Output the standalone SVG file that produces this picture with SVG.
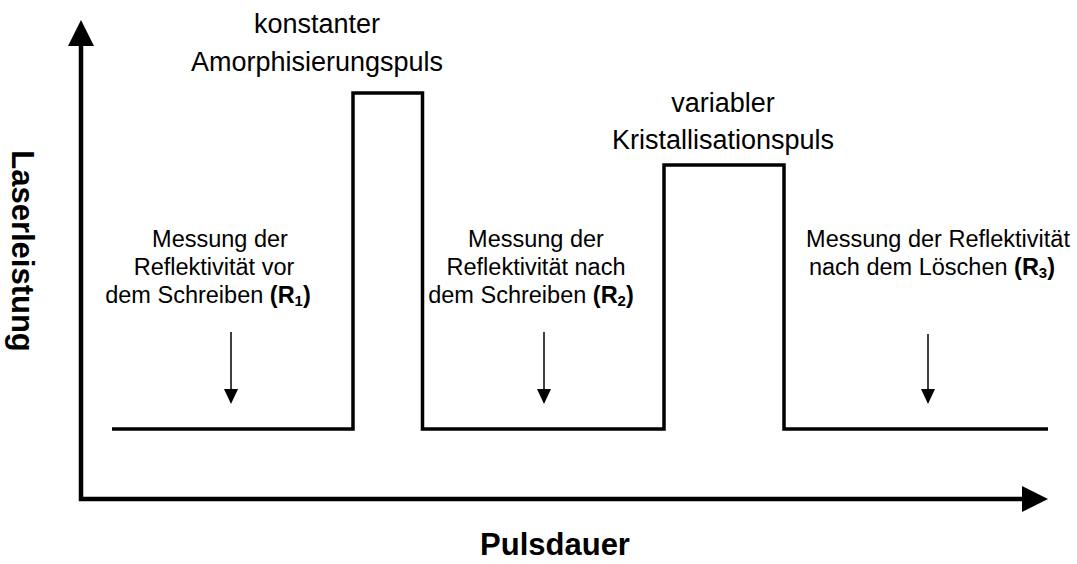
<svg xmlns="http://www.w3.org/2000/svg" width="1077" height="564" viewBox="0 0 1077 564">
<style>
.ax{stroke:#000;stroke-width:4.5;fill:none}
.sig{stroke:#000;stroke-width:3.5;fill:none;stroke-linejoin:miter}
.ar{stroke:#000;stroke-width:1.5}
.hd{fill:#000}
.sm{font-family:"Liberation Sans",Arial,sans-serif;font-size:23.5px;fill:#000;text-anchor:middle}
.lb{font-family:"Liberation Sans",Arial,sans-serif;font-size:27px;fill:#000;text-anchor:middle}
.ttl{font-family:"Liberation Sans",Arial,sans-serif;font-size:31px;font-weight:bold;fill:#000;text-anchor:middle}
.b{font-weight:bold}
</style>
<rect width="1077" height="564" fill="#fff"/>
<g id="axes">
<line class="ax" x1="81" y1="501" x2="81" y2="44"/>
<polygon class="hd" points="81,20 68,46 94,46"/>
<line class="ax" x1="79" y1="499" x2="1025" y2="499"/>
<polygon class="hd" points="1048,499 1022,486 1022,512"/>
<text class="ttl" transform="translate(12,251) rotate(90)">Laserleistung</text>
<text class="ttl" x="555" y="555">Pulsdauer</text>
</g>
<g id="signal">
<path class="sig" d="M112,429 H353 V93 H422.5 V429 H664 V165 H784 V429 H1048"/>
</g>
<g id="label-amorph">
<text class="lb" x="317" y="33">konstanter</text>
<text class="lb" x="317" y="71">Amorphisierungspuls</text>
</g>
<g id="label-krist">
<text class="lb" x="723" y="112">variabler</text>
<text class="lb" x="723" y="149">Kristallisationspuls</text>
</g>
<g id="m1">
<text class="sm" x="220" y="247">Messung der</text>
<text class="sm" x="214" y="275">Reflektivität vor</text>
<text class="sm" x="208" y="303">dem Schreiben <tspan class="b">(R<tspan font-size="15" dy="3">1</tspan><tspan dy="-3">)</tspan></tspan></text>
</g>
<g id="m2">
<text class="sm" x="536" y="247">Messung der</text>
<text class="sm" x="536" y="275">Reflektivität nach</text>
<text class="sm" x="531" y="303">dem Schreiben <tspan class="b">(R<tspan font-size="15" dy="3">2</tspan><tspan dy="-3">)</tspan></tspan></text>
</g>
<g id="m3">
<text class="sm" x="938" y="247">Messung der Reflektivität</text>
<text class="sm" x="932" y="275">nach dem Löschen <tspan class="b">(R<tspan font-size="15" dy="3">3</tspan><tspan dy="-3">)</tspan></tspan></text>
</g>
<g id="connectors">
<line class="ar" x1="231" y1="332" x2="231" y2="392"/>
<polygon class="hd" points="231,404 224,389 238,389"/>
<line class="ar" x1="544" y1="332" x2="544" y2="392"/>
<polygon class="hd" points="544,404 537,389 551,389"/>
<line class="ar" x1="928" y1="334" x2="928" y2="392"/>
<polygon class="hd" points="928,404 921,389 935,389"/>
</g>
</svg>
